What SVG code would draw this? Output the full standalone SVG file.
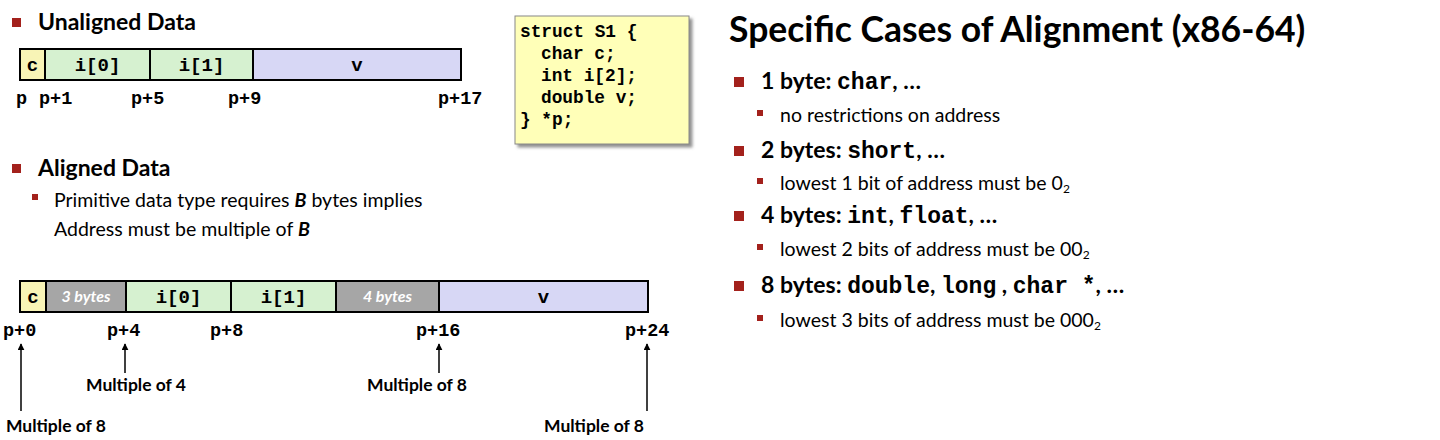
<svg xmlns="http://www.w3.org/2000/svg" width="1440" height="440" viewBox="0 0 1440 440">
<defs>
<style>
.sans{font-family:Lato,"Open Sans","Liberation Sans",sans-serif;fill:#000}
.h{font-size:23px;font-weight:bold}
.sub{font-size:19.5px}
.mono{font-family:"Liberation Mono","Courier New",monospace;font-weight:bold;fill:#000}
.ct{font-size:19px}
.pl{font-size:18.5px}
.cell{stroke:#000;stroke-width:2}
.y{fill:#F8F4B6}
.g{fill:#D6F1D0}
.l{fill:#D7D7F5}
.gr{fill:#A6A6A6}
.bul{fill:#A3211C}
.pad{font-family:Lato,"Open Sans",sans-serif;font-style:italic;font-weight:bold;font-size:16px;fill:#fff}
.lbl{font-size:17.5px;font-weight:bold}
.arr{stroke:#000;stroke-width:1.5;fill:none;marker-end:url(#ah)}
</style>
<marker id="ah" viewBox="0 0 10 10" refX="9" refY="5" markerWidth="7" markerHeight="7" orient="auto-start-reverse" markerUnits="userSpaceOnUse">
<path d="M0,0 L10,5 L0,10 z" fill="#000"/>
</marker>
<filter id="sh" x="-10%" y="-10%" width="130%" height="130%">
<feDropShadow dx="3" dy="3" stdDeviation="1.5" flood-color="#777" flood-opacity="0.8"/>
</filter>
</defs>
<rect width="1440" height="440" fill="#fff"/>

<g id="unaligned-heading">
<rect class="bul" x="12" y="18" width="9" height="9"/>
<text class="sans h" x="38" y="30">Unaligned Data</text>
</g>

<g id="unaligned-bar">
<rect class="cell y" x="20" y="49" width="25" height="31"/>
<rect class="cell g" x="45" y="49" width="105" height="31"/>
<rect class="cell g" x="150" y="49" width="103" height="31"/>
<rect class="cell l" x="253" y="49" width="208" height="31"/>
<text class="mono ct" x="32.5" y="71" text-anchor="middle">c</text>
<text class="mono ct" x="97.5" y="71" text-anchor="middle">i[0]</text>
<text class="mono ct" x="201.5" y="71" text-anchor="middle">i[1]</text>
<text class="mono ct" x="357" y="71" text-anchor="middle">v</text>
<g class="mono pl">
<text x="16" y="104">p</text>
<text x="39" y="104">p+1</text>
<text x="131" y="104">p+5</text>
<text x="228" y="104">p+9</text>
<text x="438" y="104">p+17</text>
</g>
</g>

<g id="struct-box">
<rect x="515" y="16" width="174" height="128" fill="#FFFFB8" stroke="#888" stroke-width="1" filter="url(#sh)"/>
<g class="mono" font-size="17.8">
<text x="520" y="37">struct S1 {</text>
<text x="541" y="59">char c;</text>
<text x="541" y="81">int i[2];</text>
<text x="541" y="103">double v;</text>
<text x="520" y="125">} *p;</text>
</g>
</g>

<g id="aligned-heading">
<rect class="bul" x="12" y="164" width="9" height="9"/>
<text class="sans h" x="38" y="176">Aligned Data</text>
<rect class="bul" x="32" y="194" width="6" height="6"/>
<text class="sans sub" x="54" y="207">Primitive data type requires <tspan font-weight="bold" font-style="italic">B</tspan> bytes implies</text>
<text class="sans sub" x="54" y="236">Address must be multiple of <tspan font-weight="bold" font-style="italic">B</tspan></text>
</g>

<g id="aligned-bar">
<rect class="cell y" x="20" y="281" width="26" height="31"/>
<rect class="cell gr" x="46" y="281" width="80" height="31"/>
<rect class="cell g" x="126" y="281" width="105" height="31"/>
<rect class="cell g" x="231" y="281" width="105" height="31"/>
<rect class="cell gr" x="336" y="281" width="103" height="31"/>
<rect class="cell l" x="439" y="281" width="209" height="31"/>
<text class="mono ct" x="33" y="303" text-anchor="middle">c</text>
<text class="pad" x="86" y="302" text-anchor="middle">3 bytes</text>
<text class="mono ct" x="178.5" y="303" text-anchor="middle">i[0]</text>
<text class="mono ct" x="283.5" y="303" text-anchor="middle">i[1]</text>
<text class="pad" x="387.5" y="302" text-anchor="middle">4 bytes</text>
<text class="mono ct" x="543.5" y="303" text-anchor="middle">v</text>
<g class="mono pl">
<text x="3" y="336">p+0</text>
<text x="107" y="336">p+4</text>
<text x="210" y="336">p+8</text>
<text x="416" y="336">p+16</text>
<text x="625" y="336">p+24</text>
</g>
</g>

<g id="connectors">
<line class="arr" x1="21" y1="411" x2="21" y2="344"/>
<line class="arr" x1="125" y1="373" x2="125" y2="344"/>
<line class="arr" x1="439" y1="373" x2="439" y2="344"/>
<line class="arr" x1="647" y1="411" x2="647" y2="344"/>
</g>

<g id="annotations">
<text class="sans lbl" x="136" y="391" text-anchor="middle">Multiple of 4</text>
<text class="sans lbl" x="417" y="391" text-anchor="middle">Multiple of 8</text>
<text class="sans lbl" x="6" y="432">Multiple of 8</text>
<text class="sans lbl" x="594" y="432" text-anchor="middle">Multiple of 8</text>
</g>

<g id="specific-cases">
<text class="sans" x="729" y="42" font-size="35.5" font-weight="bold">Specific Cases of Alignment (x86-64)</text>
<rect class="bul" x="734" y="77" width="10" height="10"/>
<text class="sans h" x="761" y="89">1 byte: <tspan class="mono">char</tspan>, …</text>
<rect class="bul" x="757" y="110" width="6" height="6"/>
<text class="sans sub" x="780" y="122">no restrictions on address</text>

<rect class="bul" x="734" y="146" width="10" height="10"/>
<text class="sans h" x="761" y="158">2 bytes: <tspan class="mono">short</tspan>, …</text>
<rect class="bul" x="757" y="178" width="6" height="6"/>
<text class="sans sub" x="780" y="190">lowest 1 bit of address must be 0<tspan font-size="12" dy="3">2</tspan></text>

<rect class="bul" x="734" y="211" width="10" height="10"/>
<text class="sans h" x="761" y="223">4 bytes: <tspan class="mono">int</tspan>, <tspan class="mono">float</tspan>, …</text>
<rect class="bul" x="757" y="244" width="6" height="6"/>
<text class="sans sub" x="780" y="256">lowest 2 bits of address must be 00<tspan font-size="12" dy="3">2</tspan></text>

<rect class="bul" x="734" y="281" width="10" height="10"/>
<text class="sans h" x="761" y="293">8 bytes: <tspan class="mono">double</tspan>, <tspan class="mono">long</tspan> , <tspan class="mono">char *</tspan>, …</text>
<rect class="bul" x="757" y="315" width="6" height="6"/>
<text class="sans sub" x="780" y="327">lowest 3 bits of address must be 000<tspan font-size="12" dy="3">2</tspan></text>
</g>
</svg>
